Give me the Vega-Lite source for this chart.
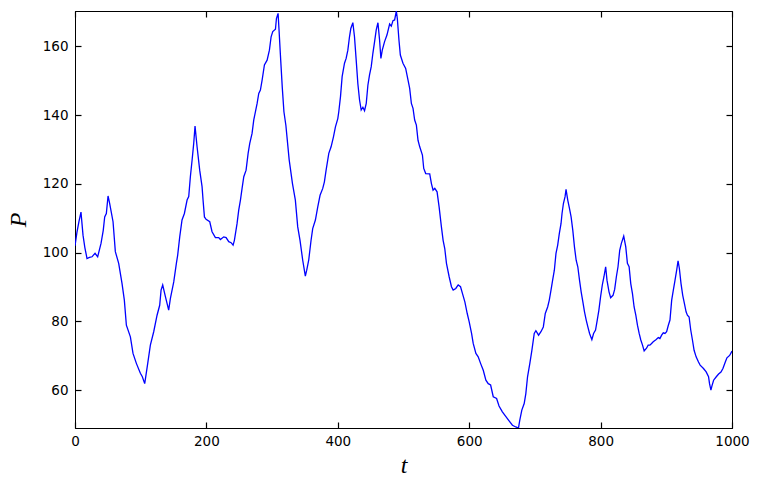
{
  "$schema": "https://vega.github.io/schema/vega-lite/v6.json",
  "width": 657,
  "height": 417,
  "autosize": "none",
  "padding": {"left": 75, "top": 11, "right": 30, "bottom": 62},
  "background": "white",
  "config": {
    "view": {"stroke": "black", "strokeWidth": 1},
    "axis": {
      "grid": false,
      "labelFlush": false,
      "labelFont": "DejaVu Sans",
      "labelFontSize": 13.5,
      "labelColor": "black",
      "titleFont": "Liberation Serif",
      "titleFontStyle": "italic",
      "titleFontWeight": "normal",
      "titleFontSize": 24,
      "titleColor": "black"
    }
  },
  "data": {
    "values": [
      {"t": 0, "P": 102},
      {"t": 3, "P": 106},
      {"t": 6, "P": 109},
      {"t": 9.1, "P": 111.8},
      {"t": 12.2, "P": 105.1},
      {"t": 15, "P": 101.5},
      {"t": 18.3, "P": 98.3},
      {"t": 22, "P": 98.6},
      {"t": 25.9, "P": 98.8},
      {"t": 28, "P": 99.3},
      {"t": 30.5, "P": 99.8},
      {"t": 34.5, "P": 98.8},
      {"t": 39.6, "P": 102.7},
      {"t": 43, "P": 106.5},
      {"t": 45.2, "P": 110.4},
      {"t": 47.7, "P": 111.4},
      {"t": 50.3, "P": 116.5},
      {"t": 52.8, "P": 114.3},
      {"t": 57.9, "P": 109},
      {"t": 61.4, "P": 100.3},
      {"t": 66.5, "P": 96.9},
      {"t": 71.6, "P": 91},
      {"t": 75.1, "P": 86.2},
      {"t": 78.2, "P": 78.9},
      {"t": 84.3, "P": 75.5},
      {"t": 88.3, "P": 70.7},
      {"t": 93.4, "P": 67.8},
      {"t": 99.5, "P": 64.9},
      {"t": 102.5, "P": 63.9},
      {"t": 106.1, "P": 61.9},
      {"t": 110.7, "P": 67.8},
      {"t": 114.7, "P": 73.1},
      {"t": 119.8, "P": 77},
      {"t": 124.9, "P": 81.8},
      {"t": 128.9, "P": 84.7},
      {"t": 131, "P": 89.1},
      {"t": 133.5, "P": 90.6},
      {"t": 137.6, "P": 87.2},
      {"t": 142.6, "P": 83.3},
      {"t": 145.2, "P": 86.7},
      {"t": 150.3, "P": 91.5},
      {"t": 154.3, "P": 96.9},
      {"t": 156.3, "P": 99.3},
      {"t": 159.4, "P": 104.6},
      {"t": 162.9, "P": 109.5},
      {"t": 166.5, "P": 111.4},
      {"t": 170.6, "P": 115.3},
      {"t": 173.1, "P": 116.3},
      {"t": 175.6, "P": 122.1},
      {"t": 178.2, "P": 126.9},
      {"t": 180.7, "P": 131.8},
      {"t": 182.7, "P": 136.8},
      {"t": 185.8, "P": 130.8},
      {"t": 189.8, "P": 124},
      {"t": 193.4, "P": 119.2},
      {"t": 194.9, "P": 115.3},
      {"t": 197, "P": 110.4},
      {"t": 199.5, "P": 109.7},
      {"t": 205.1, "P": 109},
      {"t": 208.6, "P": 106.1},
      {"t": 213.7, "P": 104.4},
      {"t": 218.8, "P": 104.4},
      {"t": 221.3, "P": 103.8},
      {"t": 226.4, "P": 104.6},
      {"t": 230, "P": 104.4},
      {"t": 234, "P": 103.2},
      {"t": 237.6, "P": 102.9},
      {"t": 240.6, "P": 102.2},
      {"t": 242.6, "P": 103.6},
      {"t": 246.7, "P": 108.5},
      {"t": 249.2, "P": 112.4},
      {"t": 251.8, "P": 115.3},
      {"t": 254.3, "P": 118.7},
      {"t": 256.9, "P": 122.1},
      {"t": 260.4, "P": 124},
      {"t": 263.5, "P": 128.9},
      {"t": 266, "P": 131.8},
      {"t": 269.5, "P": 134.7},
      {"t": 272.1, "P": 138.6},
      {"t": 277.2, "P": 143.4},
      {"t": 279.7, "P": 146.3},
      {"t": 282.2, "P": 147.3},
      {"t": 284.8, "P": 150.2},
      {"t": 288.3, "P": 154.6},
      {"t": 292.4, "P": 156},
      {"t": 295.9, "P": 158.9},
      {"t": 298.5, "P": 162.8},
      {"t": 301, "P": 164.3},
      {"t": 305.1, "P": 165},
      {"t": 306.6, "P": 168.1},
      {"t": 309.1, "P": 169.6},
      {"t": 310.5, "P": 165},
      {"t": 312.5, "P": 158},
      {"t": 315.5, "P": 148},
      {"t": 318, "P": 141},
      {"t": 321, "P": 137},
      {"t": 326, "P": 127},
      {"t": 331, "P": 120.1},
      {"t": 335.4, "P": 115.3},
      {"t": 339, "P": 107.5},
      {"t": 342.5, "P": 103.6},
      {"t": 346.6, "P": 97.8},
      {"t": 350.6, "P": 93.2},
      {"t": 352.7, "P": 94.9},
      {"t": 355.7, "P": 97.8},
      {"t": 359.3, "P": 103.6},
      {"t": 361.8, "P": 107},
      {"t": 365.9, "P": 109.5},
      {"t": 369.5, "P": 113.3},
      {"t": 373, "P": 116.7},
      {"t": 377.1, "P": 118.7},
      {"t": 379.6, "P": 120.6},
      {"t": 382.2, "P": 124},
      {"t": 386.3, "P": 128.9},
      {"t": 389.8, "P": 130.8},
      {"t": 393.4, "P": 133.7},
      {"t": 396.4, "P": 136.6},
      {"t": 400, "P": 139},
      {"t": 401.5, "P": 141},
      {"t": 404.1, "P": 145.4},
      {"t": 406.6, "P": 151.2},
      {"t": 410.2, "P": 155.1},
      {"t": 412.7, "P": 156.5},
      {"t": 415.3, "P": 158.9},
      {"t": 417.8, "P": 162.8},
      {"t": 419.8, "P": 165.2},
      {"t": 422.9, "P": 166.9},
      {"t": 425.4, "P": 162.8},
      {"t": 428, "P": 156},
      {"t": 430.5, "P": 149.2},
      {"t": 433.1, "P": 144.4},
      {"t": 435.6, "P": 141.5},
      {"t": 438.2, "P": 142.3},
      {"t": 440.7, "P": 141.3},
      {"t": 443.3, "P": 143.4},
      {"t": 445.8, "P": 148.7},
      {"t": 448.3, "P": 151.7},
      {"t": 450.9, "P": 154.1},
      {"t": 453.4, "P": 158},
      {"t": 456, "P": 161.4},
      {"t": 458.5, "P": 164.8},
      {"t": 461.1, "P": 166.9},
      {"t": 463.6, "P": 161.8},
      {"t": 465.6, "P": 156.5},
      {"t": 467.7, "P": 158.9},
      {"t": 471.2, "P": 161.4},
      {"t": 474.8, "P": 163.3},
      {"t": 478.9, "P": 166.5},
      {"t": 481.4, "P": 165.9},
      {"t": 484, "P": 167.5},
      {"t": 486.5, "P": 167.7},
      {"t": 489.1, "P": 170.3},
      {"t": 490.6, "P": 168.1},
      {"t": 493.1, "P": 161.8},
      {"t": 495.2, "P": 157.5},
      {"t": 499.2, "P": 155.1},
      {"t": 503.3, "P": 153.6},
      {"t": 506.9, "P": 150.2},
      {"t": 509.4, "P": 147.8},
      {"t": 512, "P": 143.4},
      {"t": 514.5, "P": 142},
      {"t": 517, "P": 138.6},
      {"t": 519.6, "P": 137.1},
      {"t": 522.1, "P": 132.7},
      {"t": 524.7, "P": 130.8},
      {"t": 528.8, "P": 128.4},
      {"t": 530.8, "P": 124.5},
      {"t": 533.8, "P": 123},
      {"t": 539.9, "P": 122.9},
      {"t": 542.5, "P": 120.1},
      {"t": 545, "P": 118.2},
      {"t": 547.6, "P": 118.7},
      {"t": 551.1, "P": 117.7},
      {"t": 554.2, "P": 113.3},
      {"t": 557.7, "P": 107.5},
      {"t": 560.3, "P": 103.6},
      {"t": 562.8, "P": 101.2},
      {"t": 565.4, "P": 96.9},
      {"t": 569.5, "P": 93},
      {"t": 573, "P": 90.1},
      {"t": 575.6, "P": 89.1},
      {"t": 579.6, "P": 89.6},
      {"t": 583.2, "P": 90.6},
      {"t": 586.8, "P": 90.1},
      {"t": 589.8, "P": 88.1},
      {"t": 593.4, "P": 85.7},
      {"t": 597, "P": 82.3},
      {"t": 600, "P": 79.9},
      {"t": 603.6, "P": 76.5},
      {"t": 606.1, "P": 73.6},
      {"t": 610.2, "P": 70.7},
      {"t": 613.7, "P": 69.7},
      {"t": 617.3, "P": 67.8},
      {"t": 621.4, "P": 65.8},
      {"t": 625.4, "P": 62.9},
      {"t": 629, "P": 61.9},
      {"t": 632.6, "P": 61.5},
      {"t": 636.6, "P": 58.1},
      {"t": 641.7, "P": 57.6},
      {"t": 645.4, "P": 55.4},
      {"t": 650.5, "P": 53.7},
      {"t": 655.6, "P": 52.4},
      {"t": 660.7, "P": 51.1},
      {"t": 665.8, "P": 49.8},
      {"t": 670.9, "P": 49.3},
      {"t": 675, "P": 49},
      {"t": 677, "P": 51.3},
      {"t": 680.1, "P": 54.2},
      {"t": 683.7, "P": 56.1},
      {"t": 686.2, "P": 59},
      {"t": 688.8, "P": 63.9},
      {"t": 692.3, "P": 67.8},
      {"t": 695.4, "P": 71.6},
      {"t": 699, "P": 76.5},
      {"t": 701.5, "P": 77.3},
      {"t": 705.6, "P": 76},
      {"t": 709.2, "P": 77},
      {"t": 712.8, "P": 78.4},
      {"t": 715.8, "P": 82.3},
      {"t": 719.4, "P": 84.2},
      {"t": 721.9, "P": 86.2},
      {"t": 724.5, "P": 89.1},
      {"t": 727, "P": 92},
      {"t": 729.6, "P": 94.9},
      {"t": 732.1, "P": 99.8},
      {"t": 734.7, "P": 102.2},
      {"t": 737.2, "P": 105.6},
      {"t": 739.8, "P": 108.5},
      {"t": 741.3, "P": 111.4},
      {"t": 743.4, "P": 114.3},
      {"t": 745.9, "P": 116.3},
      {"t": 747.4, "P": 118.4},
      {"t": 750, "P": 115.3},
      {"t": 752.6, "P": 112.9},
      {"t": 755.1, "P": 110.4},
      {"t": 757.7, "P": 106.5},
      {"t": 760.2, "P": 101.7},
      {"t": 762.8, "P": 97.8},
      {"t": 765.3, "P": 95.9},
      {"t": 767.9, "P": 92},
      {"t": 770.4, "P": 88.6},
      {"t": 773, "P": 85.7},
      {"t": 775.5, "P": 82.8},
      {"t": 778.1, "P": 80.4},
      {"t": 780.6, "P": 78.4},
      {"t": 783.2, "P": 76.5},
      {"t": 786.7, "P": 74.7},
      {"t": 789.3, "P": 76.5},
      {"t": 792.3, "P": 77.5},
      {"t": 794.9, "P": 80.4},
      {"t": 797.4, "P": 83.3},
      {"t": 800, "P": 87.2},
      {"t": 802.6, "P": 90.6},
      {"t": 805.1, "P": 93},
      {"t": 807.7, "P": 95.9},
      {"t": 809.7, "P": 92},
      {"t": 812.8, "P": 88.6},
      {"t": 815.3, "P": 86.9},
      {"t": 818.9, "P": 87.6},
      {"t": 821.4, "P": 89.3},
      {"t": 824, "P": 93},
      {"t": 826.5, "P": 95.9},
      {"t": 829.1, "P": 100.7},
      {"t": 831.6, "P": 102.7},
      {"t": 835.2, "P": 104.8},
      {"t": 838.3, "P": 101.7},
      {"t": 840.8, "P": 96.9},
      {"t": 843.4, "P": 95.9},
      {"t": 845.9, "P": 91},
      {"t": 848.5, "P": 88.1},
      {"t": 851, "P": 84.2},
      {"t": 853.6, "P": 81.8},
      {"t": 856.1, "P": 78.9},
      {"t": 858.7, "P": 76.5},
      {"t": 861.2, "P": 74.6},
      {"t": 863.8, "P": 73.1},
      {"t": 866.3, "P": 71.4},
      {"t": 869.9, "P": 72.2},
      {"t": 872.4, "P": 73.1},
      {"t": 875, "P": 73.1},
      {"t": 877.6, "P": 73.6},
      {"t": 880.1, "P": 74.1},
      {"t": 884.2, "P": 74.7},
      {"t": 887.8, "P": 75.3},
      {"t": 890.3, "P": 75},
      {"t": 892.9, "P": 76},
      {"t": 895.4, "P": 76.7},
      {"t": 898, "P": 76.5},
      {"t": 900.5, "P": 77},
      {"t": 903.1, "P": 78.9},
      {"t": 905.6, "P": 80.4},
      {"t": 908.2, "P": 86.2},
      {"t": 910.7, "P": 89.1},
      {"t": 913.3, "P": 92},
      {"t": 915.8, "P": 94.9},
      {"t": 917.9, "P": 97.6},
      {"t": 919.9, "P": 95.4},
      {"t": 922.4, "P": 91},
      {"t": 925, "P": 87.6},
      {"t": 927.6, "P": 85.2},
      {"t": 930.1, "P": 82.8},
      {"t": 932.1, "P": 81.8},
      {"t": 934.7, "P": 81.3},
      {"t": 937.2, "P": 77.5},
      {"t": 939.8, "P": 74.6},
      {"t": 942.3, "P": 71.6},
      {"t": 945.4, "P": 69.7},
      {"t": 949, "P": 68.2},
      {"t": 951.5, "P": 67.3},
      {"t": 956.6, "P": 66.3},
      {"t": 960.7, "P": 65.3},
      {"t": 964.3, "P": 63.9},
      {"t": 965.8, "P": 61.9},
      {"t": 967.9, "P": 60},
      {"t": 969.4, "P": 61.2},
      {"t": 972, "P": 62.9},
      {"t": 976.1, "P": 63.9},
      {"t": 979.6, "P": 64.7},
      {"t": 983.2, "P": 65.3},
      {"t": 986.2, "P": 66.3},
      {"t": 989.8, "P": 68.2},
      {"t": 992.3, "P": 69.4},
      {"t": 996.4, "P": 70.1},
      {"t": 1000, "P": 71.4}
    ]
  },
  "encoding": {
    "x": {"field": "t", "type": "quantitative", "scale": {"domain": [0, 1000], "nice": false, "zero": false}},
    "y": {"field": "P", "type": "quantitative", "scale": {"domain": [49, 170.3], "nice": false, "zero": false}}
  },
  "layer": [
    {
      "mark": {"type": "line", "stroke": "#0000ff", "strokeWidth": 1.3, "clip": true},
      "encoding": {
        "x": {"field": "t", "type": "quantitative", "axis": {"orient": "bottom", "title": "t", "format": "d", "values": [0, 200, 400, 600, 800, 1000], "domain": true, "domainColor": "black", "ticks": true, "tickSize": -6, "tickColor": "black", "tickWidth": 1.2, "labelPadding": 12, "titlePadding": 6}},
        "y": {"field": "P", "type": "quantitative", "axis": {"orient": "left", "title": "P", "format": "d", "values": [60, 80, 100, 120, 140, 160], "domain": true, "domainColor": "black", "ticks": true, "tickSize": -6, "tickColor": "black", "tickWidth": 1.2, "labelPadding": 13, "titlePadding": 12}}
      }
    },
    {
      "mark": {"type": "line", "strokeOpacity": 0, "clip": true},
      "encoding": {
        "x": {"field": "t", "type": "quantitative", "axis": {"orient": "top", "title": null, "labels": false, "values": [0, 200, 400, 600, 800, 1000], "domain": true, "domainColor": "black", "ticks": true, "tickSize": -6, "tickColor": "black", "tickWidth": 1.2}},
        "y": {"field": "P", "type": "quantitative", "axis": {"orient": "right", "title": null, "labels": false, "values": [60, 80, 100, 120, 140, 160], "domain": true, "domainColor": "black", "ticks": true, "tickSize": -6, "tickColor": "black", "tickWidth": 1.2}}
      }
    }
  ],
  "resolve": {"axis": {"x": "independent", "y": "independent"}}
}
